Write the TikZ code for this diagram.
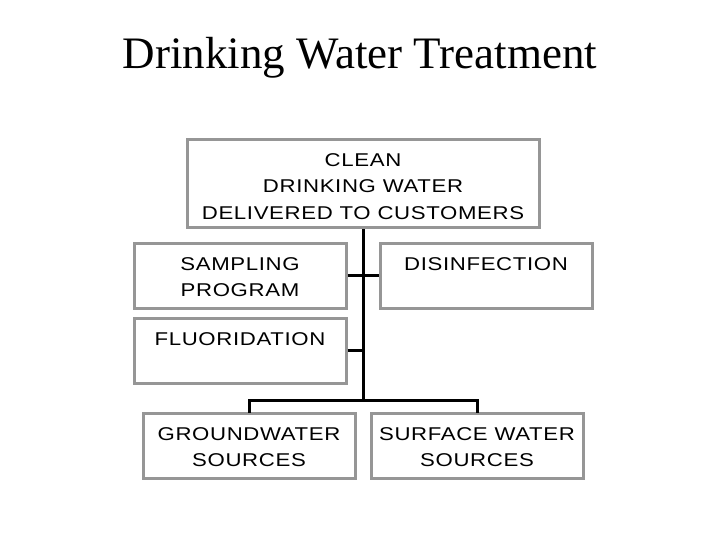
\documentclass[tikz,border=0pt]{standalone}
\usepackage{fontspec}
\setmainfont{Liberation Serif}
\newfontfamily\boxfont[FakeStretch=1.2,LetterSpace=3.5]{Liberation Sans}
\definecolor{boxgray}{RGB}{150,150,150}
\begin{document}
\begin{tikzpicture}[x=1pt,y=-1pt,
  box/.style={draw=boxgray,line width=3pt,fill=white,inner sep=0pt},
  boxtext/.style={anchor=north,inner sep=0pt,align=center,font=\boxfont\fontsize{18.5}{26.5}\selectfont},
  conn/.style={draw=black,line width=3pt}]
\useasboundingbox (0,0) rectangle (720,540);
\node[font=\fontsize{45}{50}\selectfont,anchor=base] (title) at (360,69) {Drinking Water Treatment};
% boxes
\node[box,minimum width=352pt,minimum height=88pt] (top) at (363,184) {};
\node[box,minimum width=212pt,minimum height=65pt] (samp) at (240,275.5) {};
\node[box,minimum width=212pt,minimum height=65pt] (dis) at (486,275.5) {};
\node[box,minimum width=212pt,minimum height=65pt] (fluo) at (240,350.5) {};
\node[box,minimum width=212pt,minimum height=65pt] (ground) at (249,445.5) {};
\node[box,minimum width=212pt,minimum height=65pt] (surf) at (477,445.5) {};
% texts
\node[boxtext] (ttop) at (363,153) {CLEAN\\DRINKING WATER\\DELIVERED TO CUSTOMERS};
\node[boxtext] (tsamp) at (240,257) {SAMPLING\\PROGRAM};
\node[boxtext] (tdis) at (486,257) {DISINFECTION};
\node[boxtext] (tfluo) at (240,332) {FLUORIDATION};
\node[boxtext] (tground) at (249,427) {GROUNDWATER\\SOURCES};
\node[boxtext] (tsurf) at (477,427) {SURFACE WATER\\SOURCES};
% connectors
\coordinate (trunkbot) at (363,400);
\draw[conn] (top.south -| trunkbot) -- (trunkbot);
\draw[conn] (samp.east) -- (dis.west);
\draw[conn] (fluo.east) -- (fluo.east -| trunkbot);
\draw[conn,line cap=rect] (ground.north) -- (ground.north |- trunkbot) -- (surf.north |- trunkbot) -- (surf.north);
\end{tikzpicture}
\end{document}
